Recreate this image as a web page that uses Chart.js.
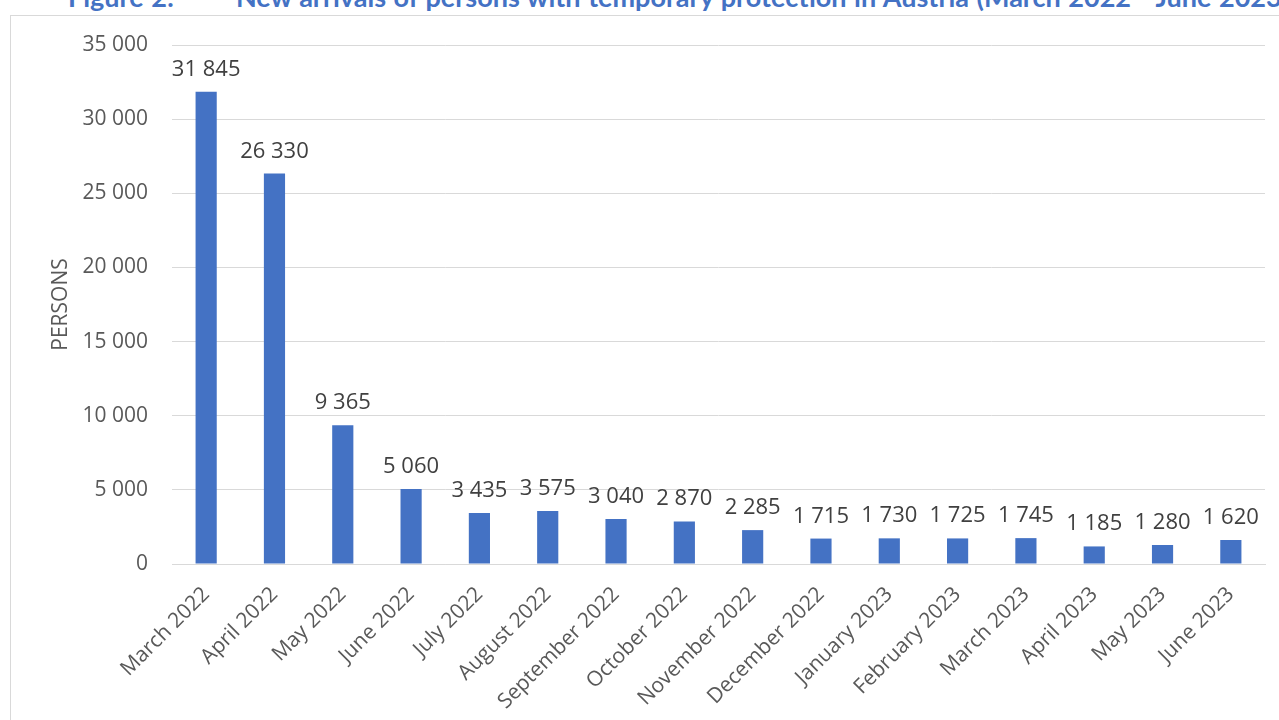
<!DOCTYPE html>
<html>
<head>
<meta charset="utf-8">
<script src="https://cdn.jsdelivr.net/npm/chart.js@4.4.0/dist/chart.umd.min.js"></script>
<style>
  body { margin: 0; background: #fff; width: 1279px; height: 720px; overflow: hidden; position: relative; }
  #title { position: absolute; left: 68px; top: -20px; white-space: nowrap;
           font-family: Lato, "Liberation Sans Narrow", sans-serif; font-weight: bold;
           font-size: 27px; color: #4472C4; word-spacing: 1px; }
  #title .gap { display: inline-block; width: 62px; }
  #frame { position: absolute; left: 10px; top: 15px; width: 1300px; height: 720px;
           border: 1px solid #d9d9d9; box-sizing: border-box; }
  #wrap { position: absolute; left: 0; top: 0; width: 1279px; height: 720px; }
</style>
</head>
<body>
<div id="title">Figure 2:<span class="gap"></span>New arrivals of persons with temporary protection in Austria (March 2022 - June 2023)</div>
<div id="frame"></div>
<div id="wrap"><canvas id="chart" width="1279" height="720"></canvas></div>
<script>
const months = ['March 2022', 'April 2022', 'May 2022', 'June 2022', 'July 2022', 'August 2022',
    'September 2022', 'October 2022', 'November 2022', 'December 2022', 'January 2023',
    'February 2023', 'March 2023', 'April 2023', 'May 2023', 'June 2023'];
const arrivals = [31845, 26330, 9365, 5060, 3435, 3575, 3040, 2870, 2285, 1715, 1730, 1725, 1745, 1185, 1280, 1620];
const yTicks = [0, 5000, 10000, 15000, 20000, 25000, 30000, 35000];

function fmt(n) {
    return String(n).replace(/\B(?=(\d{3})+(?!\d))/g, ' ');
}

// value labels above each bar
const barLabels = {
    id: 'barLabels',
    afterDatasetsDraw(chart) {
        const ctx = chart.ctx;
        const meta = chart.getDatasetMeta(0);
        ctx.save();
        ctx.font = '22px "Open Sans", sans-serif';
        ctx.fillStyle = '#404040';
        ctx.textAlign = 'center';
        ctx.textBaseline = 'alphabetic';
        meta.data.forEach((bar, i) => {
            ctx.fillText(fmt(arrivals[i]), bar.x, bar.y - 16);
        });
        ctx.restore();
    }
};

const ctx = document.getElementById('chart').getContext('2d');
new Chart(ctx, {
    type: 'bar',
    data: {
        labels: months,
        datasets: [{
            data: arrivals,
            backgroundColor: '#4472C4',
            borderWidth: 0,
            categoryPercentage: 1,
            barPercentage: 0.31
        }]
    },
    options: {
        responsive: false,
        animation: false,
        layout: { padding: { top: 45, right: 14, left: 10, bottom: 0 } },
        plugins: { legend: { display: false }, tooltip: { enabled: false } },
        scales: {
            x: {
                grid: { display: false },
                border: { color: '#d9d9d9', width: 1 },
                ticks: {
                    minRotation: 45, maxRotation: 45, autoSkip: false, padding: 10,
                    color: '#595959', font: { family: '"Open Sans", sans-serif', size: 21 }
                },
                afterFit(scale) { scale.height = 156; }
            },
            y: {
                min: 0, max: 35000,
                grid: { color: '#d9d9d9', lineWidth: 1, drawTicks: false },
                border: { display: false },
                afterBuildTicks(scale) { scale.ticks = yTicks.map(v => ({ value: v })); },
                ticks: {
                    padding: 24,
                    color: '#595959', font: { family: '"Open Sans", sans-serif', size: 21 },
                    callback: v => fmt(v)
                },
                title: {
                    display: true, text: 'PERSONS', color: '#595959',
                    font: { family: '"Open Sans", sans-serif', size: 21 },
                    padding: { top: 38, bottom: 0 }
                },
                afterFit(scale) { scale.width = 162; }
            }
        }
    },
    plugins: [barLabels]
});
</script>
</body>
</html>
